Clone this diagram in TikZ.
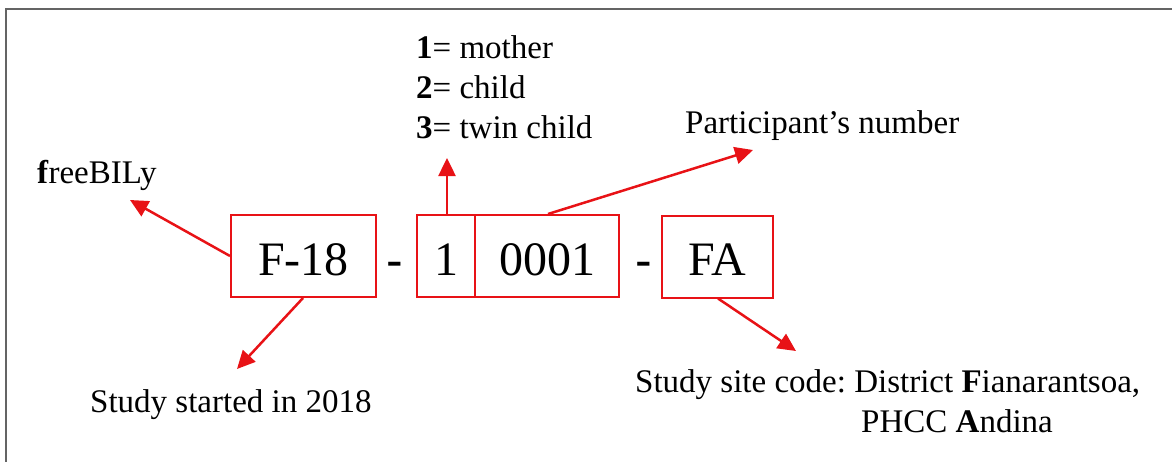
\documentclass[tikz,border=0pt]{standalone}
\usepackage{fontspec}
\setmainfont{Liberation Serif}
\newfontfamily\dashfont{Liberation Sans}
\usetikzlibrary{arrows.meta}
\frenchspacing
\definecolor{codered}{RGB}{232,18,22}
\definecolor{framegray}{RGB}{100,100,100}
\tikzset{
  codebox/.style={draw=codered, line width=2pt, inner sep=0pt, minimum height=82pt,
    text height=38pt, text depth=0pt, font=\fontsize{48}{56}\selectfont},
  lbl/.style={anchor=base west, inner sep=0pt, font=\fontsize{33}{40}\selectfont},
  sep/.style={inner sep=0pt, font=\dashfont\fontsize{50}{56}\selectfont},
  pointer/.style={draw=codered, line width=2.5pt, -{Triangle[length=18pt,width=17pt]}}
}
\begin{document}
\begin{tikzpicture}[x=1pt,y=-1pt]
\useasboundingbox (0,0) rectangle (1172,461);
\draw[framegray, line width=1.4pt] (6,470) -- (6,9) -- (1180,9);

% code boxes
\node[codebox, minimum width=145pt] (f18) at (303.5,256) {F-18};
\node[sep] (d1) at (395,270) {-};
\node[codebox, minimum width=58pt] (one) at (446,256) {1};
\node[codebox, minimum width=144pt] (num) at (547,256) {0001};
\node[sep] (d2) at (644,270) {-};
\node[codebox, minimum width=111pt] (fa) at (717.5,256.5) {FA};

% labels
\node[lbl] (free) at (37,183) {\textbf{f}reeBILy};
\node[lbl] (start) at (90,412) {Study started in 2018};
\node[lbl] (m1) at (416,58) {\textbf{1}= mother};
\node[lbl] (m2) at (416,98) {\textbf{2}= child};
\node[lbl] (m3) at (416,138) {\textbf{3}= twin child};
\node[lbl] (part) at (685,133) {Participant’s number};
\node[lbl] (site1) at (635,392) {Study site code: District \textbf{F}ianarantsoa,};
\node[lbl] (site2) at (861,432) {PHCC \textbf{A}ndina};

% arrow targets
\coordinate (tfree) at (130,200);
\coordinate (tstart) at (237,369);
\coordinate (tone) at (447,158);
\coordinate (tnum) at (753,150);
\coordinate (tfa) at (796,351);

\draw[pointer] (f18.west |- 0,256) -- (tfree);
\draw[pointer] ([xshift=-0.5pt]f18.south) -- (tstart);
\draw[pointer] ([xshift=1pt]one.north) -- (tone);
\draw[pointer] ([xshift=1pt]num.north) -- (tnum);
\draw[pointer] ([xshift=0.5pt]fa.south) -- (tfa);
\end{tikzpicture}
\end{document}
